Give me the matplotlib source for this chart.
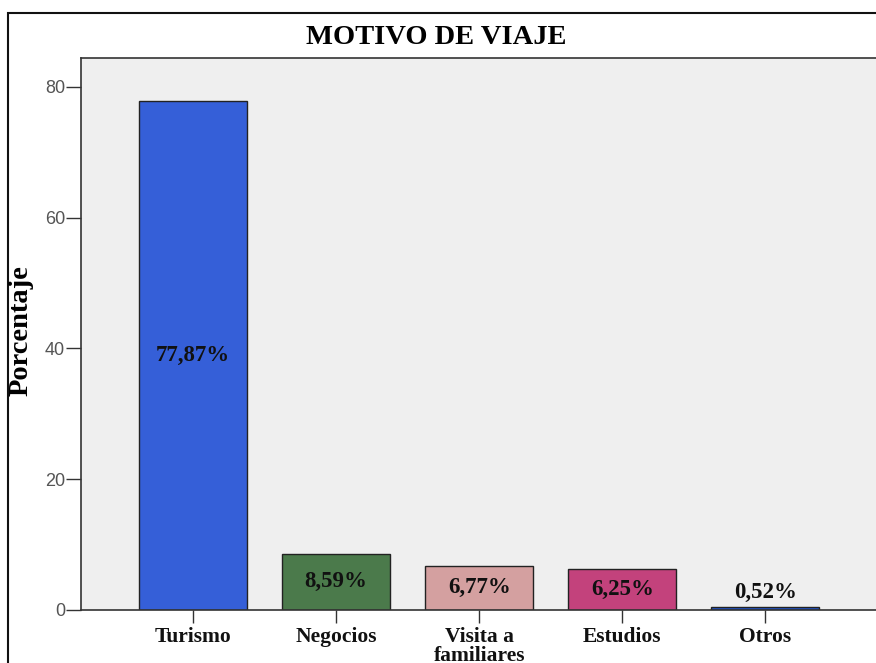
import matplotlib
matplotlib.use("Agg")
import matplotlib.pyplot as plt
from matplotlib.patches import Rectangle

categories = ["Turismo", "Negocios", "Visita a\nfamiliares", "Estudios", "Otros"]
percentages = [77.87, 8.59, 6.77, 6.25, 0.52]
value_labels = ["77,87%", "8,59%", "6,77%", "6,25%", "0,52%"]
bar_colors = ["#355fd8", "#4b7a4b", "#d4a0a0", "#c3427c", "#2255cc"]
yticks = [0, 20, 40, 60, 80]

W, H = 876, 663
fig = plt.figure(figsize=(W / 100, H / 100), dpi=100)
fig.patch.set_facecolor("white")

# plot area in pixel coords
left, top, right, bottom = 81, 58, 877.5, 610
ax = fig.add_axes([left / W, (H - bottom) / H, (right - left) / W, (bottom - top) / H])
ax.set_facecolor("#efefef")

x = list(range(len(categories)))
ax.bar(x, percentages, width=0.755, color=bar_colors, edgecolor="#222222", linewidth=1.0, zorder=2)

for xi, v, lab in zip(x, percentages, value_labels):
    ax.text(xi, max(v / 2, 2.7), lab, ha="center", va="center",
            fontfamily="Liberation Serif", fontweight="bold", fontsize=16.5, color="#111111", zorder=3)

ax.set_xlim(-0.783, 4.783)
ax.set_ylim(0, 84.4)
ax.set_yticks(yticks)
ax.set_yticklabels([str(t) for t in yticks], fontfamily="Liberation Sans", fontsize=13, color="#555555")
ax.set_xticks(x)
ax.set_xticklabels(categories, fontfamily="Liberation Serif", fontweight="bold", fontsize=15.5,
                   color="#111111", linespacing=0.95, va="top")
ax.tick_params(axis="y", length=10.5, width=1, color="#333333", pad=1)
ax.tick_params(axis="x", length=9, width=1, color="#333333", pad=3)
for s in ax.spines.values():
    s.set_color("#333333")
    s.set_linewidth(1.2)
ax.spines["right"].set_visible(False)

fig.text(21 / W, 1 - 331 / H, "Porcentaje", rotation=90, ha="center", va="center",
         fontfamily="Liberation Serif", fontweight="bold", fontsize=20.5)

fig.text(436 / W, 1 - 37.5 / H, "MOTIVO DE VIAJE", ha="center", va="center",
         fontfamily="Liberation Serif", fontweight="bold", fontsize=20.5)

# outer frame
fig.patches.append(Rectangle((8 / W, -0.1), 1.2, 1.1 - 13 / H, transform=fig.transFigure,
                             fill=False, edgecolor="#111111", linewidth=1.5, clip_on=False))

fig.savefig("out.png", dpi=100)
